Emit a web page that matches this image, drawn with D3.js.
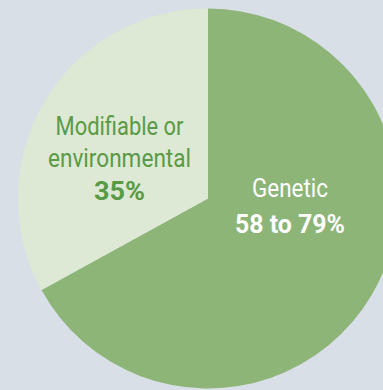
<!DOCTYPE html>
<html>
<head>
<meta charset="utf-8">
<script src="https://cdn.jsdelivr.net/npm/d3@7"></script>
<style>
  html, body { margin: 0; padding: 0; background: #d8dfe7; }
  svg { display: block; }
</style>
</head>
<body>
<svg id="chart" width="383" height="390"></svg>
<script>
// Data (slice shares by angle)
const categories = ["Genetic", "Modifiable or environmental"];
const sliceValues = [67, 33];
const labelLines = [["Genetic"], ["Modifiable or", "environmental"]];
const valueLabels = ["58 to 79%", "35%"];
const sliceColors = ["#8db577", "#dde9d5"];
const textColors = ["#ffffff", "#5a9a45"];

const width = 383, height = 390;
const cx = 208, cy = 198.5, radius = 190;

const svg = d3.select("#chart");
svg.append("rect").attr("width", width).attr("height", height).attr("fill", "#d8dfe7");

const g = svg.append("g").attr("transform", `translate(${cx},${cy})`);

const pie = d3.pie().sort(null).startAngle(0).endAngle(2 * Math.PI);
const arcs = pie(sliceValues);
const arc = d3.arc().innerRadius(0).outerRadius(radius);

g.selectAll("path.slice")
  .data(arcs)
  .join("path")
  .attr("class", "slice")
  .attr("d", arc)
  .attr("fill", (d, i) => sliceColors[i]);

const font = "Roboto, 'Liberation Sans Narrow', sans-serif";

// Label layout (positions relative to page)
const labelSpecs = [
  { x: 290, lines: [{ text: labelLines[0][0], y: 197, w: 76 }],
    value: { text: valueLabels[0], y: 233, w: 110 } },
  { x: 119.5, lines: [
      { text: labelLines[1][0], y: 134.5, w: 128 },
      { text: labelLines[1][1], y: 167, w: 143 }],
    value: { text: valueLabels[1], y: 200, w: 51 } }
];

labelSpecs.forEach((spec, i) => {
  spec.lines.forEach(l => {
    svg.append("text")
      .attr("x", spec.x).attr("y", l.y)
      .attr("text-anchor", "middle")
      .attr("font-family", font)
      .attr("font-size", 26)
      .attr("font-weight", 400)
      .attr("fill", textColors[i])
      .attr("textLength", l.w)
      .attr("lengthAdjust", "spacingAndGlyphs")
      .text(l.text);
  });
  svg.append("text")
    .attr("x", spec.x).attr("y", spec.value.y)
    .attr("text-anchor", "middle")
    .attr("font-family", font)
    .attr("font-size", 26)
    .attr("font-weight", 700)
    .attr("fill", textColors[i])
    .attr("textLength", spec.value.w)
    .attr("lengthAdjust", "spacingAndGlyphs")
    .text(spec.value.text);
});
</script>
</body>
</html>
